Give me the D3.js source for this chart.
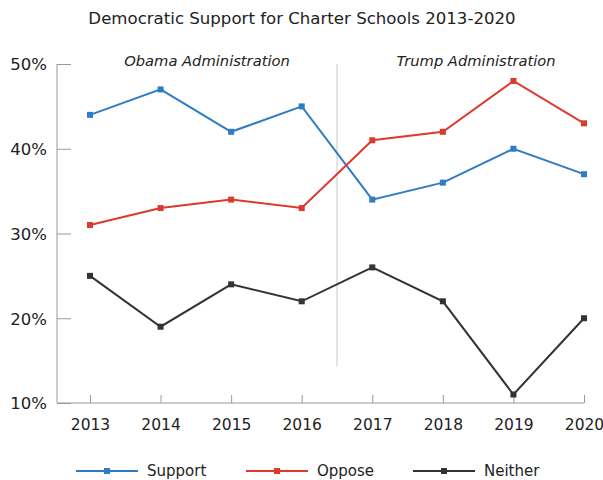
<!DOCTYPE html>
<html>
<head>
<meta charset="utf-8">
<script src="https://cdn.jsdelivr.net/npm/d3@7"></script>
<style>
  body { margin: 0; background: #fff; }
  text { font-family: "DejaVu Sans", sans-serif; fill: #222; }
</style>
</head>
<body>
<script>
// data
var years = [2013, 2014, 2015, 2016, 2017, 2018, 2019, 2020];
var support = [44, 47, 42, 45, 34, 36, 40, 37];
var oppose = [31, 33, 34, 33, 41, 42, 48, 43];
var neither = [25, 19, 24, 22, 26, 22, 11, 20];
var yTicks = [10, 20, 30, 40, 50];
var seriesNames = ["Support", "Oppose", "Neither"];
var seriesColors = ["#2f7cc5", "#dc3a2c", "#333333"];

var width = 603, height = 480;
var margin = {top: 64, right: 19, bottom: 77, left: 57};

var svg = d3.select("body").append("svg")
    .attr("width", width)
    .attr("height", height);

var x = d3.scalePoint()
    .domain(years)
    .range([90, 584]);

var y = d3.scaleLinear()
    .domain([10, 50])
    .range([height - margin.bottom, margin.top]);

svg.append("text")
    .attr("x", 302)
    .attr("y", 24)
    .attr("text-anchor", "middle")
    .style("font-size", "16.6px")
    .text("Democratic Support for Charter Schools 2013-2020");

// y axis
var yAxis = svg.append("g")
    .attr("transform", "translate(" + margin.left + ",0)")
    .call(d3.axisRight(y).tickValues(yTicks).tickSize(14).tickFormat(function (d) { return d + "%"; }));
yAxis.select(".domain").attr("stroke", "#9a9a9a").attr("d", "M0," + y(50) + "V" + y(10));
yAxis.selectAll(".tick line").attr("stroke", "#9a9a9a");
yAxis.selectAll(".tick text")
    .attr("x", -10)
    .attr("dy", "0.35em")
    .attr("text-anchor", "end")
    .style("font-size", "16.5px")
    .style("fill", "#222");

// x axis
var xAxis = svg.append("g")
    .attr("transform", "translate(0," + y(10) + ")")
    .call(d3.axisTop(x).tickSize(8).tickFormat(d3.format("d")));
xAxis.select(".domain").attr("stroke", "#9a9a9a").attr("d", "M" + margin.left + ",0H" + x(2020));
xAxis.selectAll(".tick line").attr("stroke", "#9a9a9a");
xAxis.selectAll(".tick text")
    .attr("y", 27)
    .attr("dy", 0)
    .style("font-size", "15.5px")
    .style("fill", "#222");

// separator between administrations
var sepX = (x(2016) + x(2017)) / 2;
svg.append("line")
    .attr("x1", sepX).attr("x2", sepX)
    .attr("y1", y(50)).attr("y2", y(14.3))
    .attr("stroke", "#c8c8c8")
    .attr("stroke-width", 1);

svg.append("text")
    .attr("x", 207).attr("y", 66)
    .attr("text-anchor", "middle")
    .style("font-style", "italic")
    .style("font-size", "14.7px")
    .text("Obama Administration");

svg.append("text")
    .attr("x", 476).attr("y", 66)
    .attr("text-anchor", "middle")
    .style("font-style", "italic")
    .style("font-size", "14.7px")
    .text("Trump Administration");

var allSeries = [support, oppose, neither];
var line = d3.line()
    .x(function (d, i) { return x(years[i]); })
    .y(function (d) { return y(d); });

allSeries.forEach(function (vals, s) {
    var g = svg.append("g");
    g.append("path")
        .datum(vals)
        .attr("fill", "none")
        .attr("stroke", seriesColors[s])
        .attr("stroke-width", 2)
        .attr("d", line);
    g.selectAll("rect")
        .data(vals)
        .enter().append("rect")
        .attr("x", function (d, i) { return x(years[i]) - 3; })
        .attr("y", function (d) { return y(d) - 3; })
        .attr("width", 6)
        .attr("height", 6)
        .attr("fill", seriesColors[s]);
});

// legend
var legendX = [76, 246, 413];
var legend = svg.selectAll(".legend")
    .data(seriesNames)
    .enter().append("g")
    .attr("class", "legend")
    .attr("transform", function (d, i) { return "translate(" + legendX[i] + ",471)"; });
legend.append("line")
    .attr("x1", 0).attr("x2", 62)
    .attr("stroke", function (d, i) { return seriesColors[i]; })
    .attr("stroke-width", 2);
legend.append("rect")
    .attr("x", 28).attr("y", -3)
    .attr("width", 6).attr("height", 6)
    .attr("fill", function (d, i) { return seriesColors[i]; });
legend.append("text")
    .attr("x", 71)
    .attr("dy", "0.35em")
    .style("font-size", "15px")
    .text(function (d) { return d; });
</script>
</body>
</html>
